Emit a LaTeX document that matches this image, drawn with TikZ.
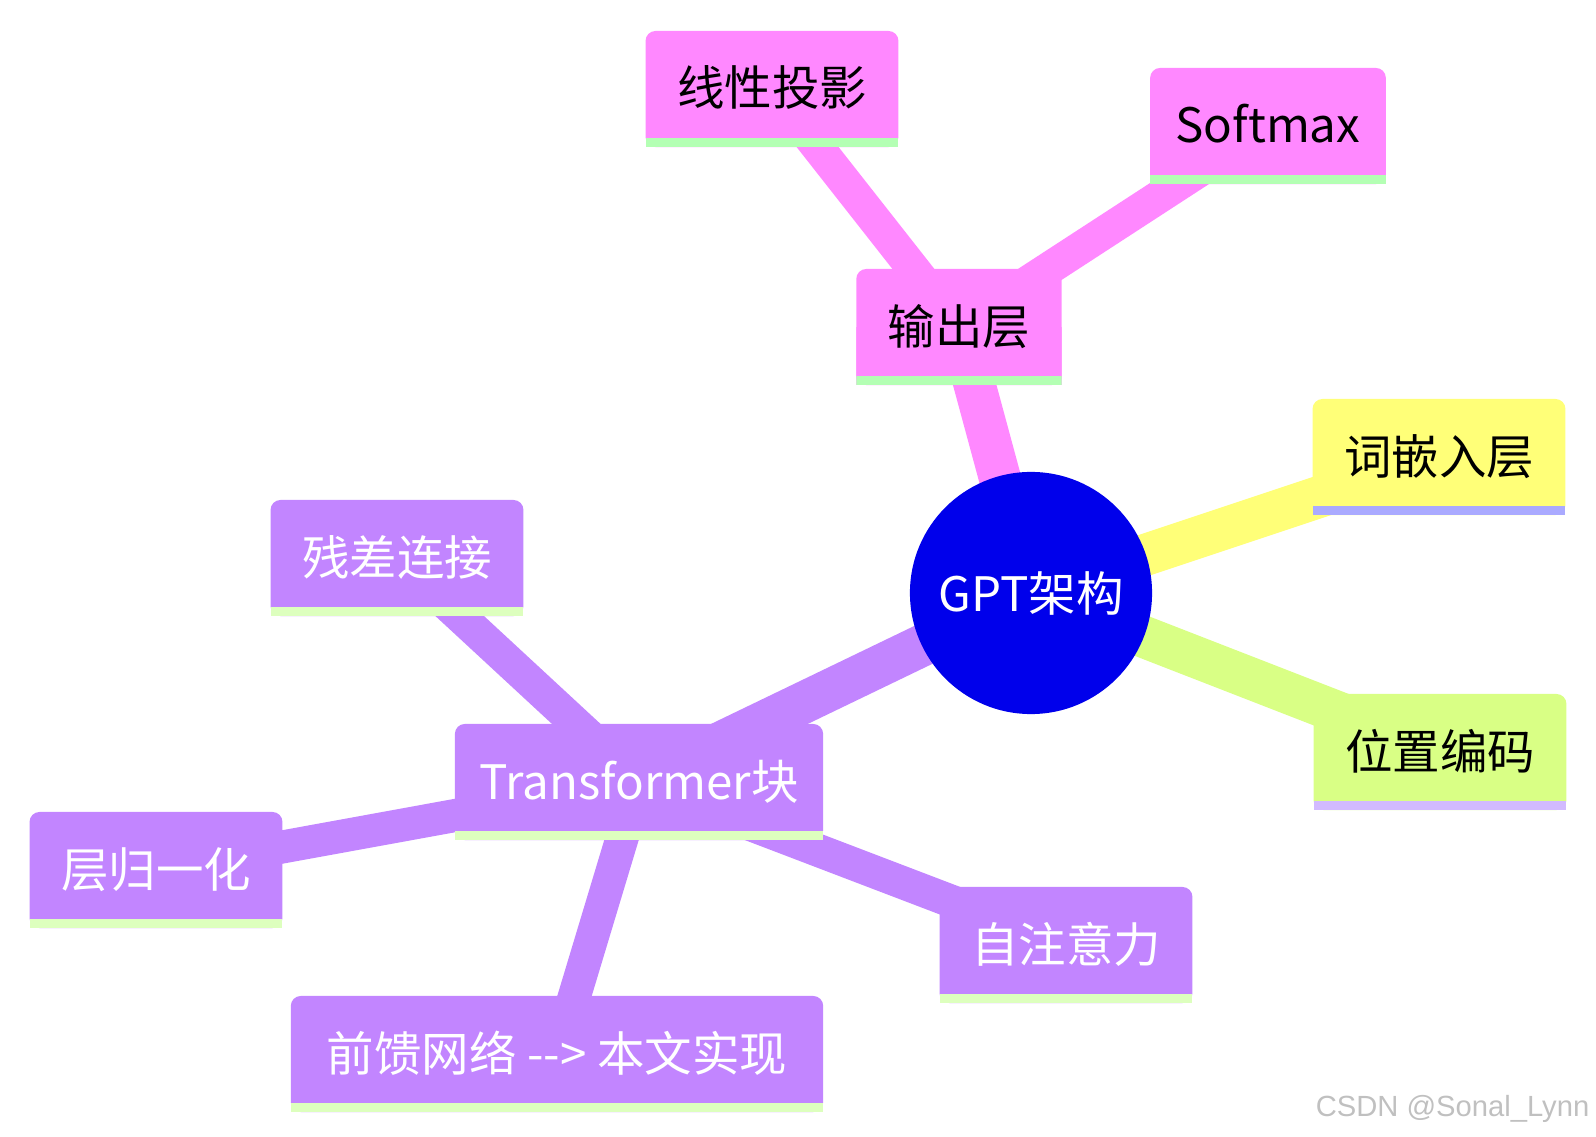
\documentclass[tikz,border=0pt]{standalone}
\usepackage{fontspec}
\setmainfont{Noto Sans CJK SC}
\newfontfamily\markfont{Liberation Sans}
\usepackage{tikz}
\usetikzlibrary{backgrounds}
\definecolor{rootblue}{RGB}{0,0,235}
\definecolor{lemon}{RGB}{255,255,120}
\definecolor{lemonline}{RGB}{170,170,255}
\definecolor{lime}{RGB}{217,255,133}
\definecolor{limeline}{RGB}{210,186,255}
\definecolor{grape}{RGB}{194,133,255}
\definecolor{grapeline}{RGB}{221,255,190}
\definecolor{rose}{RGB}{255,136,255}
\definecolor{roseline}{RGB}{180,255,180}
\definecolor{mark}{RGB}{192,192,192}
\tikzset{
  leaf/.style 2 args={rectangle, minimum height=1.16cm, inner xsep=0.315cm,
    text height=0.42cm, text depth=0.08cm,
    font=\fontsize{13.5pt}{16pt}\selectfont,
    path picture={
      \fill[#1, rounded corners=0.1cm] (path picture bounding box.south west)
        rectangle (path picture bounding box.north east);
      \fill[#1] (path picture bounding box.south west)
        rectangle (path picture bounding box.east);
      \fill[#2] (path picture bounding box.south west)
        rectangle ([yshift=0.09cm]path picture bounding box.south east);
    }},
  trunk/.style={line width=0.42cm},
  twig/.style={line width=0.33cm}
}

\begin{document}
\begin{tikzpicture}[x=0.01cm, y=-0.01cm]
  \useasboundingbox (0,0) rectangle (1596,1137);

  \node[circle, fill=rootblue, minimum size=2.42cm, inner sep=0pt, text=white,
        font=\fontsize{13.5pt}{16pt}\selectfont] (root) at (1031,593) {GPT架构};

  \node[leaf={rose}{roseline}] (out) at (959,327) {输出层};
  \node[leaf={rose}{roseline}] (proj) at (772,89) {线性投影};
  \node[leaf={rose}{roseline}, inner xsep=0.255cm] (soft) at (1268,126) {Softmax};

  \node[leaf={lemon}{lemonline}] (emb) at (1439,457) {词嵌入层};
  \node[leaf={lime}{limeline}] (pos) at (1440,752) {位置编码};

  \node[leaf={grape}{grapeline}, text=white, inner xsep=0.245cm] (block) at (639,782) {Transformer块};
  \node[leaf={grape}{grapeline}, text=white] (res) at (397,558) {残差连接};
  \node[leaf={grape}{grapeline}, text=white] (norm) at (156,870) {层归一化};
  \node[leaf={grape}{grapeline}, text=white] (attn) at (1066,945) {自注意力};
  \node[leaf={grape}{grapeline}, text=white, inner xsep=0.36cm] (ffn) at (557,1054) {前馈网络 -{}-{}> 本文实现};

  \node[anchor=east, inner sep=0pt, text=mark, font=\markfont\fontsize{8.3pt}{10pt}\selectfont]
    (credit) at (1590,1109) {CSDN @Sonal\_Lynn};

  \begin{scope}[on background layer]
    \draw[trunk, rose] (root.center) -- (out.center);
    \draw[trunk, lemon] (root.center) -- (emb.center);
    \draw[trunk, lime] (root.center) -- (pos.center);
    \draw[trunk, grape] (root.center) -- (block.center);
    \draw[twig, rose] (out.center) -- (proj.center);
    \draw[twig, rose] (out.center) -- (soft.center);
    \draw[twig, grape] (block.center) -- (res.center);
    \draw[twig, grape] (block.center) -- (norm.center);
    \draw[twig, grape] (block.center) -- (attn.center);
    \draw[twig, grape] (block.center) -- (ffn.center);
  \end{scope}
\end{tikzpicture}
\end{document}
